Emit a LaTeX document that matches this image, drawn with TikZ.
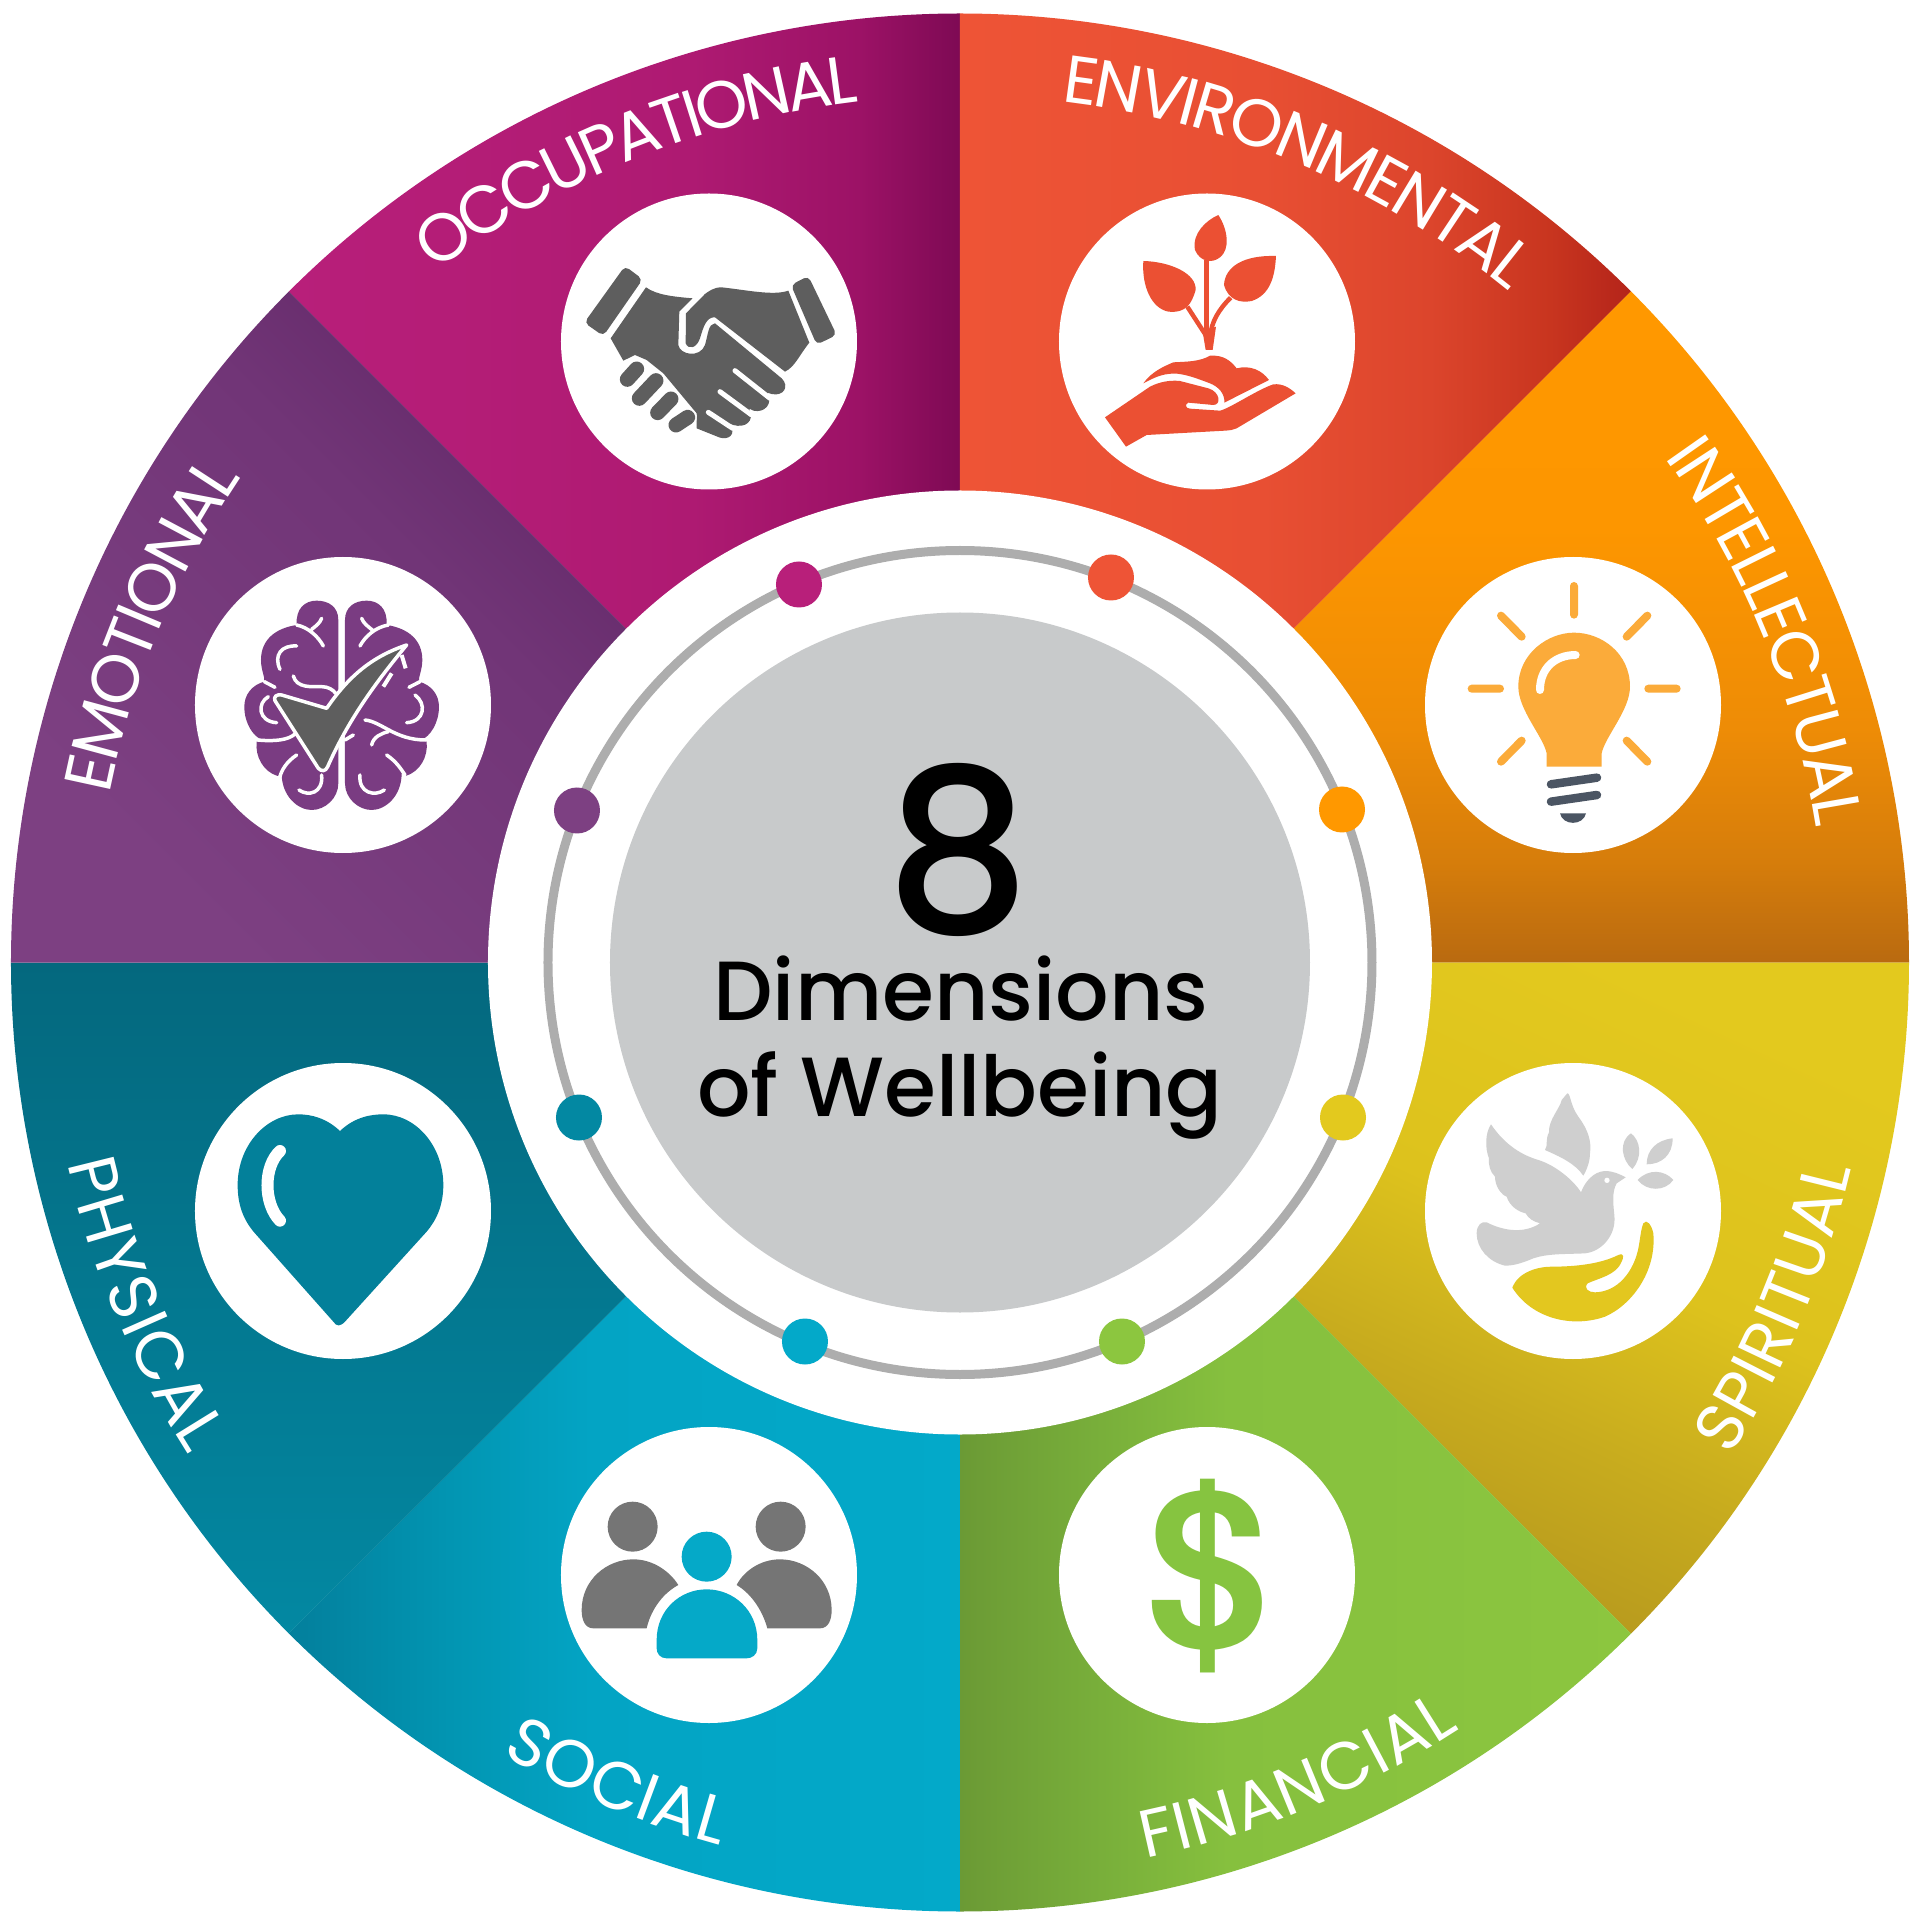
\documentclass[tikz,border=0pt]{standalone}
\usepackage{fontspec}
\setmainfont{Poppins}
\newfontfamily\popm{Poppins Medium}
\newfontfamily\labf{Poppins}
\newfontfamily\hero{TeX Gyre Heros}
\definecolor{hgray}{HTML}{5E5E5E}
\definecolor{envc}{HTML}{EB5033}
\definecolor{emoc}{HTML}{7A3C82}
\definecolor{bulbc}{HTML}{FBAB3A}
\definecolor{screwc}{HTML}{4B5563}
\definecolor{dovec}{HTML}{CFCFCF}
\definecolor{handc}{HTML}{E3C71F}
\definecolor{heartc}{HTML}{03809A}
\definecolor{moneyc}{HTML}{86C440}
\definecolor{peoplec}{HTML}{757575}
\definecolor{tealc}{HTML}{05A9C8}
\definecolor{ringc}{HTML}{ADADAD}
\definecolor{corec}{HTML}{C8CACB}
\definecolor{occA}{HTML}{B81F7A}\definecolor{occB}{HTML}{AE1A72}\definecolor{occC}{HTML}{9C1266}\definecolor{occD}{HTML}{7E0A54}
\definecolor{envA}{HTML}{EE5436}\definecolor{envB}{HTML}{E84F33}\definecolor{envC}{HTML}{DC452C}\definecolor{envD}{HTML}{C8351F}\definecolor{envE}{HTML}{B4241A}
\definecolor{intA}{HTML}{FF9800}\definecolor{intB}{HTML}{FD9600}\definecolor{intC}{HTML}{EE8C06}\definecolor{intD}{HTML}{D67D0B}\definecolor{intE}{HTML}{B96A10}
\definecolor{spiA}{HTML}{E3C91E}\definecolor{spiB}{HTML}{DDC21D}\definecolor{spiC}{HTML}{C7AB1E}\definecolor{spiD}{HTML}{A98A1E}
\definecolor{finA}{HTML}{6B9A35}\definecolor{finB}{HTML}{78AE3A}\definecolor{finC}{HTML}{86C03E}\definecolor{finD}{HTML}{8CC63F}
\definecolor{socA}{HTML}{037F9C}\definecolor{socB}{HTML}{0296B3}\definecolor{socC}{HTML}{03A4C4}\definecolor{socD}{HTML}{03A9C9}
\definecolor{phyA}{HTML}{04687E}\definecolor{phyB}{HTML}{027A92}\definecolor{phyC}{HTML}{0388A2}
\definecolor{emoA}{HTML}{5C2362}\definecolor{emoB}{HTML}{602664}\definecolor{emoC}{HTML}{713577}\definecolor{emoD}{HTML}{7D4082}
\pgfdeclarehorizontalshading{occS}{100bp}{color(0bp)=(occA);color(25bp)=(occA);color(55bp)=(occB);color(67.5bp)=(occC);color(75bp)=(occD);color(100bp)=(occD)}
\pgfdeclarehorizontalshading{envS}{100bp}{color(0bp)=(envA);color(25bp)=(envA);color(47.5bp)=(envB);color(60bp)=(envC);color(69bp)=(envD);color(75bp)=(envE);color(100bp)=(envE)}
\pgfdeclareverticalshading{intS}{100bp}{color(0bp)=(intE);color(25bp)=(intE);color(32.5bp)=(intD);color(42.5bp)=(intC);color(57.5bp)=(intB);color(75bp)=(intA);color(100bp)=(intA)}
\pgfdeclareverticalshading{spiS}{100bp}{color(0bp)=(spiD);color(25bp)=(spiD);color(45bp)=(spiC);color(57bp)=(spiB);color(75bp)=(spiA);color(100bp)=(spiA)}
\pgfdeclarehorizontalshading{finS}{100bp}{color(0bp)=(finA);color(25bp)=(finA);color(35bp)=(finB);color(45bp)=(finC);color(75bp)=(finD);color(100bp)=(finD)}
\pgfdeclarehorizontalshading{socS}{100bp}{color(0bp)=(socA);color(25bp)=(socA);color(37.5bp)=(socB);color(47.5bp)=(socC);color(75bp)=(socD);color(100bp)=(socD)}
\pgfdeclareverticalshading{emoS}{100bp}{color(0bp)=(emoD);color(25bp)=(emoD);color(50bp)=(emoC);color(65bp)=(emoB);color(75bp)=(emoA);color(100bp)=(emoA)}
\newcommand\lfont{\labf\fontsize{67}{67}\selectfont}
\tikzset{
  iconc/.style={circle,fill=white,inner sep=0pt,minimum size=296pt},
  ringdot/.style={circle,inner sep=0pt,minimum size=46pt,fill=#1},
  iconscope/.style 2 args={xshift=#1pt,yshift=#2pt,x=0.33333pt,y=-0.33333pt,line cap=round,line join=round},
  wstroke/.style={draw=white,line width=#1pt},
  centre/.style={anchor=base,text=black,inner sep=0pt,font=\popm},
  letterlab/.style={anchor=base,inner sep=0pt,text=white,font=\lfont},
}
\newbox\lblBox
\newcommand\lblmeasure[1]{\pgfinterruptpicture\global\setbox\lblBox=\hbox{\lfont #1}\endpgfinterruptpicture}
\newcommand\sect[3]{\shade[#3] (0,0) -- (#1:949) arc (#1:#2:949) -- cycle;}
% start angle, end angle, baseline radius, word as a list of letters, word
\newcommand\arclabel[5]{%
  \lblmeasure{#5}\edef\lblW{\the\wd\lblBox}%
  \gdef\lblN{0}\foreach \c [count=\i] in {#4}{\xdef\lblN{\i}}%
  \pgfmathsetmacro\sgn{ifthenelse(#2>#1,1,-1)}%
  \pgfmathsetmacro\lblGap{(abs(#2-#1)/180*pi*#3-\lblW)/(\lblN-1)}%
  \gdef\lblPre{}%
  \foreach \c [count=\i] in {#4}{%
    \xdef\lblPre{\lblPre\c}%
    \lblmeasure{\lblPre}\edef\lblA{\the\wd\lblBox}%
    \lblmeasure{\c}\edef\lblB{\the\wd\lblBox}%
    \pgfmathsetmacro\ang{#1+\sgn*(\lblA-\lblB/2+(\i-1)*\lblGap)/#3*57.29578}%
    \node[letterlab,rotate=\ang+\sgn*90] (lab#5\i) at (\ang:#3) {\c};%
  }%
}
\begin{document}
\begin{tikzpicture}[x=1pt,y=1pt]
\fill[white] (-960,-957.5) rectangle (960,962.5);
\useasboundingbox (-960,-957.5) rectangle (960,962.5);
% sectors
\sect{90}{135}{shading=occS}
\sect{45}{90}{shading=envS}
\sect{0}{45}{shading=intS}
\sect{-45}{0}{shading=spiS,shading angle=-25}
\sect{-90}{-45}{shading=finS}
\sect{225}{270}{shading=socS}
\sect{180}{225}{top color=phyA,middle color=phyB,bottom color=phyC}
\sect{135}{180}{shading=emoS,shading angle=-45}
% centre
\fill[white] (0,0) circle[radius=472];
\draw[ringc,line width=9pt] (0,0) circle[radius=412];
\fill[corec] (0,0) circle[radius=350];
\node[ringdot=occA] (d1) at (-161,378) {};
\node[ringdot=envA] (d2) at (151,385) {};
\node[ringdot=intA] (d3) at (382,153) {};
\node[ringdot=spiA] (d4) at (383,-155) {};
\node[ringdot=finD] (d5) at (162,-379) {};
\node[ringdot=socD] (d6) at (-155,-379) {};
\node[ringdot=phyC] (d7) at (-381,-155) {};
\node[ringdot=emoD] (d8) at (-383,152) {};
\node[centre,font=\popm\fontsize{228}{228}\selectfont] (eight) at (-1.8,30.5) {8};
\node[centre,font=\popm\fontsize{84}{84}\selectfont] (dim) at (1,-57.5) {Dimensions};
\node[centre,font=\popm\fontsize{84}{84}\selectfont] (wel) at (0,-154) {of Wellbeing};
% icon discs
\node[iconc] (occ) at (-251,621) {};
\node[iconc] (env) at (247,621) {};
\node[iconc] (emo) at (-617,257.5) {};
\node[iconc] (int) at (613,257.5) {};
\node[iconc] (spi) at (613,-248.5) {};
\node[iconc] (phy) at (-617,-248.5) {};
\node[iconc] (soc) at (-251,-612.5) {};
\node[iconc] (fin) at (247,-612.5) {};
% labels
\arclabel{127.2}{96.7}{867}{O,C,C,U,P,A,T,I,O,N,A,L}{OCCUPATIONAL}
\arclabel{83.3}{50.7}{867}{E,N,V,I,R,O,N,M,E,N,T,A,L}{ENVIRONMENTAL}
\arclabel{35.6}{8.9}{867}{I,N,T,E,L,L,E,C,T,U,A,L}{INTELLECTUAL}
\arclabel{-32.7}{-13}{915}{S,P,I,R,I,T,U,A,L}{SPIRITUAL}
\arclabel{-78.3}{-56.9}{915}{F,I,N,A,N,C,I,A,L}{FINANCIAL}
\arclabel{239.9}{254.8}{915}{S,O,C,I,A,L}{SOCIAL}
\arclabel{192.7}{212.6}{915}{P,H,Y,S,I,C,A,L}{PHYSICAL}
\arclabel{168.8}{146}{867}{E,M,O,T,I,O,N,A,L}{EMOTIONAL}
% handshake
\begin{scope}[iconscope={-420}{792.5}]
\fill[hgray,rounded corners=5pt] (255,288)--(308,328)--(190,498)--(133,458)--cycle;
\fill[hgray,rounded corners=5pt] (805,318)--(890,495)--(830,524)--(753,345)--cycle;
\fill[hgray] (318,352) .. controls (350,375) and (400,380) .. (458,385) -- (418,425) -- (415,525)
  .. controls (420,555) and (480,565) .. (495,525) .. controls (505,490) and (505,462) .. (525,460)
  -- (725,625) .. controls (750,650) and (730,680) .. (695,672) -- (682,668)
  .. controls (700,700) and (675,730) .. (640,722) -- (628,716)
  .. controls (645,755) and (615,775) .. (580,765) -- (570,762)
  .. controls (590,795) and (565,810) .. (540,803) -- (470,775) -- (470,730) -- (420,670) -- (370,610)
  -- (320,570) -- (285,555) -- (250,572) -- (212,505) -- cycle;
\fill[hgray] (745,362) .. controls (700,378) and (620,360) .. (545,352) .. controls (520,352) and (505,365) .. (495,372)
  -- (438,430) -- (437,520) .. controls (445,540) and (470,535) .. (480,505)
  .. controls (490,470) and (500,440) .. (525,442) -- (735,605) .. controls (765,590) and (775,560) .. (808,518) -- cycle;
\draw[white,line width=5pt] (585,602)--(690,685) (540,665)--(635,735) (505,727)--(578,775);
\draw[white,line width=18.5pt] (262,628)--(290,597);
\draw[hgray,line width=15pt] (262,628)--(290,597);
\draw[white,line width=18.5pt] (298,685)--(348,632);
\draw[hgray,line width=15pt] (298,685)--(348,632);
\draw[white,line width=18.5pt] (353,728)--(393,687);
\draw[hgray,line width=15pt] (353,728)--(393,687);
\draw[white,line width=18.5pt] (408,765)--(443,742);
\draw[hgray,line width=15pt] (408,765)--(443,742);
\end{scope}
% plant
\begin{scope}[iconscope={80}{792.5}]
\fill[envc] (535,135) .. controls (565,180) and (570,240) .. (540,262) .. controls (515,282) and (480,275) .. (465,240) .. controls (455,190) and (500,150) .. (535,135) -- cycle;
\fill[envc] (310,273) .. controls (390,275) and (470,310) .. (467,360) .. controls (455,400) and (440,430) .. (385,425) .. controls (335,415) and (305,350) .. (310,273) -- cycle;
\fill[envc] (708,258) .. controls (610,255) and (555,290) .. (552,345) .. controls (565,390) and (600,400) .. (635,393) .. controls (690,375) and (705,320) .. (708,258) -- cycle;
\draw[envc,line width=5pt,line cap=butt] (500,270)--(500,500);
\draw[envc,line width=4.5pt,line cap=butt] (442,410)--(497,495);
\draw[envc,line width=4.5pt,line cap=butt] (572,383) .. controls (535,420) and (515,455) .. (510,500);
\fill[envc] (488,485) -- (497,540) -- (518,540) -- (528,470) -- cycle;
\fill[envc] (310,640) .. controls (335,605) and (370,590) .. (400,577) .. controls (440,575) and (480,575) .. (510,557) .. controls (550,555) and (570,570) .. (590,595) .. controls (630,585) and (665,600) .. (687,630) -- (553,698) .. controls (555,670) and (535,650) .. (510,640) .. controls (470,625) and (420,605) .. (385,612) .. controls (355,615) and (330,630) .. (310,640) -- cycle;
\fill[envc] (195,742) -- (330,650) .. controls (360,635) and (390,630) .. (420,633) -- (505,655) .. controls (540,665) and (545,705) .. (520,705) -- (445,698) .. controls (435,702) and (435,715) .. (450,716) -- (540,722) .. controls (570,715) and (650,660) .. (700,643) .. controls (730,640) and (750,655) .. (767,670) -- (590,775) .. controls (580,780) and (570,781) .. (555,782) -- (320,795) -- (258,830) -- cycle;
\end{scope}
% brain
\begin{scope}[iconscope={-785}{422.5}]
\foreach \m in {{1,0,0,1,(0,0)},{-1,0,0,1,(1000,0)}}{
\begin{scope}[cm/.expanded={\m}]
\fill[emoc] (490,240) .. controls (490,200) and (460,182) .. (425,182) .. controls (390,182) and (362,205) .. (365,255)
  .. controls (300,265) and (258,300) .. (258,360) .. controls (258,390) and (270,410) .. (268,425)
  .. controls (230,435) and (208,465) .. (208,500) .. controls (208,550) and (235,590) .. (262,600)
  -- (245,605) .. controls (240,650) and (265,695) .. (308,708) -- (320,700)
  .. controls (320,770) and (370,810) .. (410,810) .. controls (450,810) and (490,775) .. (490,730) -- cycle;
\end{scope}}
\draw[wstroke=3.5] (440,235) .. controls (435,250) and (420,260) .. (410,268) (365,255) .. controls (400,262) and (430,290) .. (445,318);
\draw[wstroke=3.5] (365,318) .. controls (320,315) and (295,345) .. (315,388);
\draw[wstroke=3.5] (355,408) .. controls (365,445) and (410,440) .. (440,440) .. controls (460,440) and (475,450) .. (482,460);
\draw[wstroke=3.5] (300,442) -- (268,425);
\draw[wstroke=3.5] (280,470) .. controls (245,490) and (250,545) .. (305,548);
\draw[wstroke=3.5] (248,600) .. controls (300,605) and (340,600) .. (360,582);
\draw[wstroke=3.5] (365,645) .. controls (335,665) and (320,690) .. (315,710);
\draw[wstroke=3.5] (440,705) .. controls (445,760) and (400,770) .. (372,750);
\draw[wstroke=3.5] (560,235) .. controls (565,250) and (580,260) .. (592,270) (640,255) .. controls (600,262) and (570,290) .. (555,318);
\draw[wstroke=3.5] (702,442) -- (735,425);
\draw[wstroke=3.5] (720,465) .. controls (755,490) and (750,545) .. (695,548);
\draw[wstroke=3.5] (570,540) .. controls (620,545) and (660,600) .. (752,600);
\draw[wstroke=3.5] (590,615) .. controls (595,590) and (620,580) .. (640,575);
\draw[wstroke=3.5] (635,645) .. controls (665,665) and (680,690) .. (690,705);
\draw[wstroke=3.5] (555,705) .. controls (550,760) and (600,770) .. (628,750);
\draw[wstroke=3.5] (510,600) -- (535,585);
\draw[white,line width=4pt,line cap=butt] (680,345)--(692,385) (650,400)--(625,440);
\filldraw[fill=hgray,draw=white,line width=3.5pt] (695,315) .. controls (590,350) and (520,410) .. (455,505) -- (320,465) .. controls (305,462) and (295,470) .. (300,482) -- (430,685) .. controls (440,695) and (452,695) .. (458,680) .. controls (520,540) and (600,430) .. (695,315) -- cycle;
\end{scope}
% bulb
\begin{scope}[iconscope={445}{422.5}]
\fill[bulbc] (425,680) -- (425,640) .. controls (415,590) and (340,510) .. (340,440) .. controls (340,340) and (430,278) .. (507,278) .. controls (590,278) and (675,340) .. (675,440) .. controls (675,510) and (600,590) .. (590,640) -- (590,680) -- cycle;
\draw[white,line width=8pt] (512,345) .. controls (450,345) and (405,385) .. (405,450);
\draw[bulbc,line width=8pt] (507,138)--(507,224) (288,227)--(350,290) (727,227)--(665,290) (200,446)--(285,446) (730,446)--(815,446) (350,602)--(288,665) (665,602)--(727,665);
\draw[screwc,line width=8.5pt] (438,733)--(576,713) (438,785)--(576,765);
\fill[screwc] (465,820) -- (543,820) .. controls (535,858) and (473,858) .. (465,820) -- cycle;
\end{scope}
% dove
\begin{scope}[iconscope={445}{-82.5}]
\fill[dovec] (487,145) .. controls (497,145) and (495,180) .. (520,215) .. controls (550,255) and (560,290) .. (555,325) .. controls (555,350) and (545,375) .. (535,392) .. controls (510,355) and (465,335) .. (420,315) .. controls (430,300) and (420,285) .. (432,262) .. controls (430,225) and (465,190) .. (470,165) -- cycle;
\fill[dovec] (258,238) .. controls (300,300) and (350,330) .. (400,345) .. controls (450,360) and (505,405) .. (528,442) .. controls (540,410) and (565,380) .. (600,378) .. controls (625,378) and (645,388) .. (662,397) -- (635,415) .. controls (620,440) and (625,480) .. (628,510) .. controls (635,570) and (590,620) .. (540,625) .. controls (480,628) and (430,625) .. (385,640) .. controls (350,655) and (325,662) .. (300,662) .. controls (250,650) and (215,610) .. (215,565) .. controls (215,540) and (230,528) .. (245,532) .. controls (300,560) and (360,565) .. (405,535) .. controls (385,530) and (370,520) .. (362,505) .. controls (340,500) and (315,485) .. (305,455) .. controls (290,450) and (270,425) .. (270,395) .. controls (255,380) and (250,360) .. (252,340) .. controls (240,310) and (240,265) .. (258,238) -- cycle;
\fill[white] (606,406) circle[radius=8];
\fill[dovec] (678,265) .. controls (705,285) and (715,335) .. (682,372) .. controls (650,345) and (640,290) .. (678,265) -- cycle;
\fill[dovec] (803,280) .. controls (755,285) and (725,315) .. (725,358) .. controls (770,358) and (803,330) .. (803,280) -- cycle;
\fill[dovec] (698,405) .. controls (730,370) and (780,375) .. (805,405) .. controls (780,440) and (725,440) .. (698,405) -- cycle;
\fill[handc] (322,728) .. controls (340,680) and (400,665) .. (440,665) .. controls (520,665) and (590,655) .. (640,630) .. controls (660,622) and (655,640) .. (650,650) .. controls (635,690) and (580,700) .. (548,715) .. controls (535,730) and (550,742) .. (570,742) .. controls (640,740) and (680,680) .. (695,630) .. controls (705,600) and (705,560) .. (715,535) .. controls (725,520) and (740,540) .. (745,565) .. controls (755,680) and (680,780) .. (600,815) .. controls (500,850) and (380,820) .. (322,728) -- cycle;
\end{scope}
% heart
\begin{scope}[iconscope={-785}{-82.5}]
\fill[heartc] (495,258) .. controls (540,215) and (590,208) .. (625,208) .. controls (720,208) and (805,300) .. (805,420) .. controls (805,480) and (785,525) .. (755,560) -- (510,830) .. controls (495,845) and (485,845) .. (475,830) -- (240,565) .. controls (205,525) and (188,480) .. (188,420) .. controls (188,300) and (275,208) .. (370,208) .. controls (410,208) and (455,220) .. (495,258) -- cycle;
\draw[white,line width=12pt] (315,318) .. controls (265,365) and (265,475) .. (315,527);
\end{scope}
% dollar
\node[inner sep=0pt,text=moneyc,font=\hero\bfseries\fontsize{218}{218}\selectfont] (dollar) at (247.7,-613.5) {\$};
% people
\begin{scope}[iconscope={-420}{-447.5}]
\fill[peoplec] (278,350) circle[radius=75] (722,350) circle[radius=75];
\fill[peoplec] (125,600) .. controls (125,510) and (200,448) .. (280,448) .. controls (340,448) and (390,485) .. (415,525) .. controls (360,555) and (330,610) .. (320,655) -- (160,655) .. controls (135,655) and (125,630) .. (125,600) -- cycle;
\fill[peoplec] (875,600) .. controls (875,510) and (800,448) .. (720,448) .. controls (660,448) and (610,485) .. (590,525) .. controls (640,555) and (670,610) .. (682,655) -- (840,655) .. controls (865,655) and (875,630) .. (875,600) -- cycle;
\fill[tealc] (500,440) circle[radius=75];
\fill[tealc] (350,690) .. controls (350,600) and (420,538) .. (500,538) .. controls (580,538) and (652,600) .. (652,690) -- (652,715) .. controls (652,735) and (635,745) .. (620,745) -- (380,745) .. controls (360,745) and (350,730) .. (350,715) -- cycle;
\end{scope}
\end{tikzpicture}
\end{document}
